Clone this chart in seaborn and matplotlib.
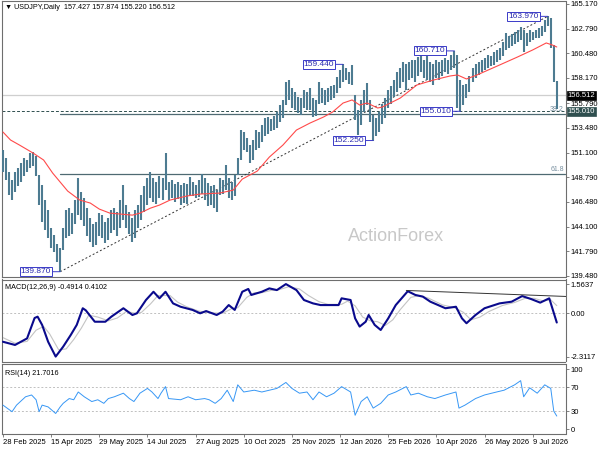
import numpy as np
import matplotlib
matplotlib.use("Agg")
import matplotlib.pyplot as plt
import matplotlib.transforms as mtransforms
import seaborn as sns

# ---------------- data ----------------
symbol = "USDJPY,Daily"
last_open, last_high, last_low, last_close = 157.427, 157.874, 155.220, 156.512
bar_step = 2  # each bar entry covers two trading days

highs = [151.35, 150.60, 149.27, 148.52, 149.27, 149.65, 150.12, 150.60, 150.41, 151.07,
         151.16, 150.79, 148.99, 148.05, 146.63, 145.69, 143.99, 143.32, 142.47, 142.10,
         143.99, 145.69, 145.87, 145.40, 146.63, 148.71, 147.39, 146.82, 145.87, 144.93,
         144.36, 144.55, 145.40, 145.21, 144.55, 144.93, 145.69, 145.87, 145.50, 146.63,
         148.05, 146.16, 145.50, 144.93, 145.69, 146.16, 147.10, 147.95, 148.71, 149.27,
         148.71, 148.33, 148.90, 148.71, 151.07, 148.33, 148.52, 148.14, 148.33, 148.05,
         148.24, 148.14, 148.80, 148.33, 148.05, 148.52, 149.09, 148.71, 148.24, 147.95,
         148.05, 147.57, 148.71, 148.52, 149.94, 148.71, 148.33, 148.99, 150.60, 153.24,
         153.05, 152.49, 151.82, 152.30, 153.24, 153.05, 153.71, 154.37, 154.47, 154.28,
         154.56, 154.94, 155.60, 156.08, 157.78, 157.96, 157.21, 156.83, 156.36, 156.26,
         157.02, 156.83, 157.21, 156.26, 156.08, 157.78, 157.21, 157.02, 157.21, 157.40,
         157.49, 158.25, 158.91, 159.44, 159.10, 158.72, 159.38, 156.55, 155.13, 156.08,
         157.02, 157.68, 156.08, 154.66, 154.37, 154.94, 155.70, 156.26, 157.02, 157.40,
         157.96, 158.72, 159.10, 159.66, 159.47, 159.66, 159.85, 159.85, 160.14, 160.61,
         159.85, 160.23, 159.66, 159.47, 159.85, 159.66, 159.85, 160.04, 159.85, 160.32,
         160.71, 160.32, 157.96, 157.49, 157.59, 158.34, 159.10, 159.47, 159.66, 159.85,
         160.04, 160.32, 160.23, 160.61, 160.80, 160.99, 161.55, 162.40, 162.12, 162.31,
         162.50, 162.69, 162.97, 162.69, 162.40, 162.69, 162.50, 162.69, 162.87, 163.06,
         163.63, 163.97, 163.82, 161.27, 157.874]
lows = [149.27, 148.52, 147.10, 146.63, 147.39, 147.95, 148.33, 148.90, 149.27, 149.65,
        149.84, 148.90, 146.16, 144.55, 143.80, 143.04, 142.10, 141.72, 140.77, 139.87,
        141.91, 143.04, 143.23, 143.42, 144.36, 145.21, 144.74, 144.17, 143.23, 142.66,
        142.19, 142.38, 143.23, 143.04, 142.57, 142.85, 143.51, 143.80, 143.23, 143.99,
        144.74, 143.99, 143.42, 142.66, 143.04, 143.99, 144.74, 145.50, 146.16, 146.82,
        146.44, 146.25, 146.82, 146.63, 147.57, 146.63, 146.82, 146.44, 146.72, 146.16,
        146.35, 146.25, 147.01, 147.01, 146.82, 146.91, 147.20, 146.63, 146.06, 146.16,
        145.87, 145.50, 147.10, 147.20, 147.57, 146.82, 146.63, 147.01, 148.99, 150.41,
        151.35, 151.16, 150.12, 150.41, 151.35, 151.54, 152.11, 152.68, 152.86, 153.15,
        153.24, 153.43, 154.00, 154.37, 155.60, 156.08, 155.32, 155.13, 154.85, 154.66,
        155.32, 155.13, 155.13, 154.47, 154.56, 155.70, 155.79, 155.60, 155.89, 156.08,
        156.26, 156.74, 157.21, 157.78, 157.96, 157.59, 157.49, 154.19, 152.77, 153.71,
        154.94, 155.60, 154.00, 152.25, 152.68, 153.05, 153.81, 154.37, 155.32, 155.70,
        156.36, 156.83, 157.21, 157.78, 157.02, 157.96, 158.15, 157.78, 158.34, 158.72,
        158.15, 157.96, 157.78, 157.49, 158.15, 157.96, 158.34, 158.72, 158.53, 158.91,
        159.10, 155.32, 155.01, 155.60, 156.26, 156.83, 157.78, 158.15, 158.44, 158.72,
        158.91, 159.10, 159.29, 159.38, 159.66, 159.85, 160.23, 160.80, 160.99, 161.17,
        161.36, 161.55, 161.74, 160.61, 161.17, 161.55, 161.74, 161.93, 161.93, 162.12,
        162.50, 163.06, 160.99, 157.78, 155.220]

ma_day = [0, 5, 11, 20, 27, 33, 43, 51, 58, 64, 71, 78, 86, 91, 98, 104, 111, 122, 131, 144,
          153, 159, 169, 177, 186, 195, 204, 213, 219, 226, 232, 237, 242, 249, 252, 264, 275,
          286, 297, 302, 308, 315, 330, 342, 352, 361, 365, 368]
ma_val = [153.05, 152.30, 151.82, 151.07, 150.41, 149.18, 147.48, 146.63, 146.35, 145.78,
          145.40, 145.31, 145.21, 145.40, 145.87, 146.16, 146.63, 147.01, 147.20, 147.29,
          147.57, 148.61, 149.37, 150.69, 151.82, 153.24, 153.90, 154.47, 154.94, 155.79,
          156.08, 155.60, 155.79, 155.32, 155.41, 156.26, 157.49, 157.96, 158.34, 158.44,
          158.06, 158.44, 159.38, 160.14, 160.80, 161.46, 161.27, 161.08]

macd_day = [0, 8, 16, 21, 23, 26, 30, 35, 40, 45, 49, 53, 55, 61, 68, 72, 80, 86, 89, 95,
            100, 104, 108, 113, 118, 126, 131, 135, 142, 146, 150, 154, 159, 163, 165, 172,
            177, 182, 188, 195, 200, 206, 211, 223, 225, 231, 234, 237, 241, 243, 247, 251,
            256, 261, 269, 274, 279, 284, 294, 301, 305, 308, 314, 320, 330, 338, 345, 351,
            357, 363, 368]
macd_val = [-1.52, -1.69, -1.34, -0.25, -0.18, -0.62, -1.52, -2.31, -1.78, -1.16, -0.62,
            0.27, 0.16, -0.45, -0.45, -0.18, 0.27, -0.09, 0.00, 0.71, 1.15, 0.80, 1.15, 0.53,
            0.35, 0.18, 0.00, 0.12, -0.09, 0.09, 0.44, 0.18, 1.15, 1.30, 0.98, 1.15, 1.33,
            1.24, 1.56, 1.24, 0.71, 0.53, 0.44, 0.44, 0.80, 0.71, -0.27, -0.71, -0.45, -0.09,
            -0.62, -0.89, -0.27, 0.44, 1.18, 0.98, 0.89, 0.62, 0.27, 0.35, -0.27, -0.53, -0.09,
            0.27, 0.53, 0.62, 0.92, 0.76, 0.57, 0.80, -0.4914]
signal_day = [0, 8, 16, 22, 27, 31, 37, 42, 47, 52, 57, 63, 70, 76, 82, 88, 92, 98, 103, 107,
              111, 116, 122, 130, 135, 140, 146, 152, 156, 162, 167, 172, 178, 183, 190, 197,
              203, 210, 216, 225, 229, 234, 239, 244, 249, 254, 259, 264, 271, 277, 283, 292,
              300, 306, 311, 317, 323, 332, 340, 347, 353, 359, 364, 368]
signal_val = [-1.30, -1.60, -1.50, -0.90, -0.70, -1.10, -1.95, -1.90, -1.40, -0.80, -0.10,
              -0.20, -0.40, -0.25, 0.10, 0.00, 0.05, 0.50, 0.95, 0.95, 0.95, 0.60, 0.35, 0.12,
              0.05, 0.02, 0.00, 0.25, 0.30, 0.85, 1.10, 1.10, 1.22, 1.25, 1.42, 1.30, 0.95,
              0.62, 0.48, 0.48, 0.65, 0.40, -0.20, -0.40, -0.45, -0.65, -0.35, 0.20, 0.85,
              0.95, 0.80, 0.45, 0.30, 0.05, -0.35, -0.20, 0.10, 0.42, 0.58, 0.80, 0.80, 0.66,
              0.72, 0.4102]

rsi_day = [0, 6, 9, 15, 19, 22, 24, 26, 30, 35, 38, 40, 44, 47, 50, 54, 59, 63, 67, 70, 74,
           80, 84, 87, 91, 96, 99, 103, 105, 108, 110, 118, 123, 128, 134, 137, 141, 145, 149,
           153, 156, 160, 167, 172, 177, 182, 188, 192, 197, 202, 206, 210, 215, 220, 225, 231,
           234, 238, 242, 246, 251, 256, 261, 268, 271, 276, 282, 287, 294, 301, 303, 307,
           314, 320, 328, 333, 340, 344, 346, 350, 355, 360, 362, 364, 366, 368]
rsi_val = [40, 29, 40, 54, 57, 49, 29, 40, 37, 26, 37, 43, 51, 49, 62, 54, 46, 49, 43, 51, 54,
           60, 51, 46, 60, 68, 62, 51, 60, 71, 51, 49, 54, 49, 51, 49, 43, 51, 65, 46, 74, 62,
           65, 62, 65, 68, 78, 68, 60, 62, 49, 62, 54, 60, 71, 62, 23, 46, 54, 35, 43, 57, 62,
           71, 57, 60, 54, 51, 57, 62, 35, 40, 51, 57, 62, 65, 74, 81, 54, 69, 60, 74, 71, 68,
           30, 21.7016]

date_labels = ["28 Feb 2025", "15 Apr 2025", "29 May 2025", "14 Jul 2025", "27 Aug 2025",
               "10 Oct 2025", "25 Nov 2025", "12 Jan 2026", "25 Feb 2026", "10 Apr 2026",
               "26 May 2026", "9 Jul 2026"]
label_every = 32
price_ticks = [165.170, 162.790, 160.480, 158.170, 155.790, 153.480, 151.100, 148.790,
               146.480, 144.100, 141.790, 139.480]
support_level = 155.010
swing_low, swing_high = 139.870, 163.970
fib_levels = [38.2, 61.8]
swing_marks = [(139.870, "low"), (159.440, "high"), (152.250, "low"),
               (160.710, "high"), (155.010, "low"), (163.970, "high")]
macd_ticks = [1.5637, 0.0, -2.3117]
macd_trend_day = [268, 374]
macd_trend_val = [1.22, 0.90]
rsi_ticks = [100, 70, 30, 0]
rsi_levels = [70, 30]

# ---------------- style ----------------
sns.set_theme(style="white")
plt.rcParams["font.family"] = ["Liberation Sans", "DejaVu Sans"]
plt.rcParams["axes.linewidth"] = 0.8

FS = 5.5
frame = "#6e6e6e"
bar_col = "#4d7b91"
lab_blue = "#2b2bb0"

W, H = 600, 450
fig = plt.figure(figsize=(6, 4.5), dpi=100)
fig.patch.set_facecolor("white")

def box(top_px, bottom_px):
    return [2 / W, 1 - bottom_px / H, (565.5 - 2) / W, (bottom_px - top_px) / H]

ax = fig.add_axes(box(1, 277))
axm = fig.add_axes(box(279.5, 361.5), sharex=ax)
axr = fig.add_axes(box(364, 434), sharex=ax)

days = np.arange(len(highs)) * bar_step
x_left, x_right = -0.66, 373.8

for a in (ax, axm, axr):
    a.set_facecolor("white")
    for s in a.spines.values():
        s.set_color(frame)
        s.set_linewidth(0.8)
    a.yaxis.tick_right()
    a.tick_params(axis="y", which="both", direction="out", length=2, width=0.6,
                  colors=frame, labelcolor="black", labelsize=FS, pad=1.5)
    a.set_xlim(x_left, x_right)
    a.grid(False)

# ---------------- price panel ----------------
ax.set_ylim(139.37, 165.42)
ax.set_yticks(price_ticks)
ax.set_yticklabels([f"{v:.3f}" for v in price_ticks])
ax.tick_params(axis="x", which="both", bottom=False, labelbottom=False)

ax.axhline(last_close, color="#cfcfcf", lw=0.9, zorder=1)
ax.axhline(support_level, color="#2f4f4f", lw=0.7, ls=(0, (3, 2)), zorder=1)

k_low = int(np.argmin(np.abs(np.array(lows) - swing_low)))
k_high = int(np.argmin(np.abs(np.array(highs) - swing_high)))
d_low, d_high = days[k_low], days[k_high]
rng = swing_high - swing_low
for f in fib_levels:
    lvl = swing_high - f / 100 * rng
    ax.plot([d_low, x_right], [lvl, lvl], color="#4f6a72", lw=0.9, zorder=1)
    ax.text(x_right - 1, lvl + 0.12, f"{f:.1f}", ha="right", va="bottom",
            fontsize=5, color="#7890a0", zorder=3)

ax.plot([d_low, d_high], [swing_low, swing_high], color="#333333", lw=0.7,
        ls=(0, (2, 2.2)), zorder=2)

ax.vlines(days, lows, highs, color=bar_col, lw=1.5, zorder=3)

sns.lineplot(x=ma_day, y=ma_val, ax=ax, color="#ff4a4a", linewidth=0.8,
             legend=False, zorder=4)

for val, src in swing_marks:
    arr = np.array(highs if src == "high" else lows)
    k = int(np.argmin(np.abs(arr - val)))
    ax.annotate(f"{val:.3f}", xy=(days[k], val), xytext=(-6.5, 0),
                textcoords="offset points", ha="right", va="center",
                fontsize=6, color=lab_blue, zorder=6,
                bbox=dict(boxstyle="square,pad=0.12", fc="white", ec="#3a3ac8", lw=0.7),
                arrowprops=dict(arrowstyle="-", color="#3a3ac8", lw=0.7,
                                shrinkA=0, shrinkB=0))

trans = mtransforms.blended_transform_factory(ax.transAxes, ax.transData)
ax.text(1.004, last_close, f"{last_close:.3f}", transform=trans, ha="left",
        va="center", fontsize=FS, color="white", zorder=7, clip_on=False,
        bbox=dict(boxstyle="square,pad=0.12", fc="black", ec="black", lw=0.5))
ax.text(1.004, support_level, f"{support_level:.3f}", transform=trans, ha="left",
        va="center", fontsize=FS, color="white", zorder=7, clip_on=False,
        bbox=dict(boxstyle="square,pad=0.12", fc="#2f4f4f", ec="#2f4f4f", lw=0.5))

ax.text(0.006, 0.975, f"\u25bc {symbol}  {last_open:.3f} {last_high:.3f} "
        f"{last_low:.3f} {last_close:.3f}", transform=ax.transAxes, ha="left",
        va="center", fontsize=5.2, color="black")
ax.text(0.70, 0.148, "ActionForex", transform=ax.transAxes, ha="center",
        va="center", fontsize=13, color="#c8c8c8", zorder=0)

# ---------------- MACD panel ----------------
axm.set_ylim(-2.573, 1.805)
axm.set_yticks(macd_ticks)
axm.set_yticklabels(["1.5637", "0.00", "-2.3117"])
axm.tick_params(axis="x", which="both", bottom=False, labelbottom=False)
axm.axhline(0, color="#c0c0c0", lw=0.7, ls=(0, (2, 2)), zorder=1)
sns.lineplot(x=signal_day, y=signal_val, ax=axm, color="#c4c4c4", linewidth=0.8,
             legend=False, zorder=2)
sns.lineplot(x=macd_day, y=macd_val, ax=axm, color="#0a0a8c", linewidth=1.5,
             legend=False, zorder=3)
axm.plot(macd_trend_day, macd_trend_val, color="#333333", lw=0.7, zorder=4)
axm.text(0.006, 0.9, f"MACD(12,26,9) {macd_val[-1]:.4f} {signal_val[-1]:.4f}",
         transform=axm.transAxes, ha="left", va="center", fontsize=5.2, color="black")

# ---------------- RSI panel ----------------
axr.set_ylim(-8.375, 108.9)
axr.set_yticks(rsi_ticks)
axr.set_yticklabels([str(v) for v in rsi_ticks])
for lv in rsi_levels:
    axr.axhline(lv, color="#c0c0c0", lw=0.7, ls=(0, (2, 2)), zorder=1)
sns.lineplot(x=rsi_day, y=rsi_val, ax=axr, color="#3797f5", linewidth=0.7,
             legend=False, zorder=3)
axr.text(0.006, 0.86, f"RSI(14) {rsi_val[-1]:.4f}", transform=axr.transAxes,
         ha="left", va="center", fontsize=5.2, color="black")

tick_pos = np.arange(len(date_labels)) * label_every
axr.set_xticks(tick_pos)
axr.set_xticklabels(date_labels, ha="left")
axr.tick_params(axis="x", which="both", bottom=True, direction="out", length=2,
                width=0.6, colors=frame, labelcolor="black", labelsize=FS, pad=1.5)
for a in (ax, axm, axr):
    a.set_xlabel("")
    a.set_ylabel("")

fig.savefig("out.png", dpi=100, facecolor="white")
